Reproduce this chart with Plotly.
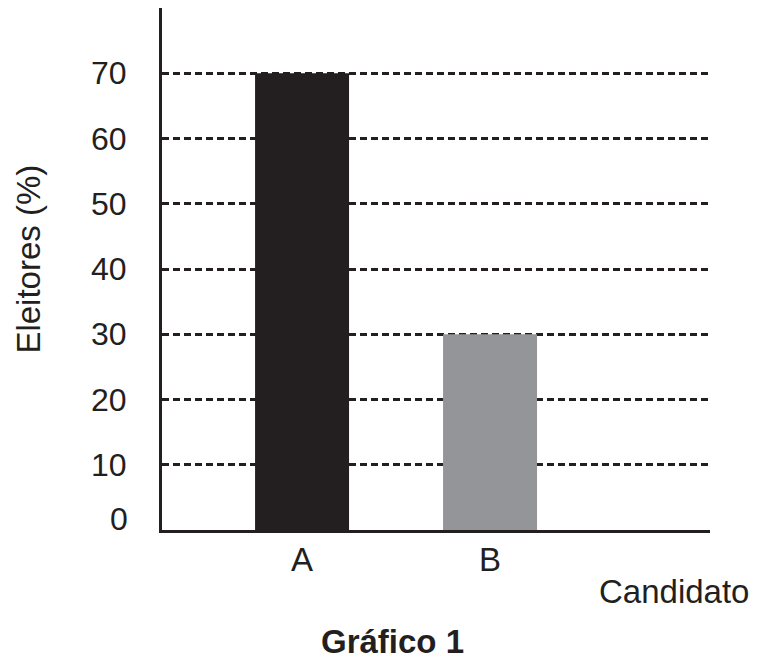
import plotly.graph_objects as go

# Data
candidates = ['A', 'B']
voters_pct = [70, 30]
bar_colors = ['#231f20', '#939598']
y_ticks = [10, 20, 30, 40, 50, 60, 70]

positions = list(range(len(candidates)))
ink = '#231f20'
font_family = 'Liberation Sans, Arial, sans-serif'

fig = go.Figure()

fig.add_trace(go.Bar(
    x=positions,
    y=voters_pct,
    width=0.5,
    marker=dict(color=bar_colors, line=dict(width=0)),
    showlegend=False,
    hoverinfo='skip'
))

# the page body adds an 8px margin, so the figure is made that much smaller
fig.update_layout(
    width=753,
    height=663,
    margin=dict(l=154, r=51, t=0, b=141),
    plot_bgcolor='white',
    paper_bgcolor='white',
    font=dict(family=font_family, size=32, color=ink),
    xaxis=dict(
        range=[-0.745, 2.17],
        tickvals=positions,
        ticktext=candidates,
        showgrid=False,
        zeroline=False,
        showline=True,
        linecolor=ink,
        linewidth=3,
        ticks='',
        ticklabelstandoff=-2,
        tickfont=dict(size=33),
        fixedrange=True
    ),
    yaxis=dict(
        range=[0, 80],
        tickvals=y_ticks,
        showgrid=True,
        gridcolor=ink,
        gridwidth=2.5,
        griddash='7px,4px',
        zeroline=False,
        showline=True,
        linecolor=ink,
        linewidth=3,
        ticks='',
        ticklabelstandoff=26,
        tickfont=dict(size=32),
        fixedrange=True
    ),
    annotations=[
        # "0" label sits a little above the baseline in the original
        dict(text='0', xref='paper', yref='y', x=0, y=0, xanchor='right', yanchor='middle',
             xshift=-32, yshift=11, showarrow=False, font=dict(size=32)),
        dict(text='Eleitores (%)', xref='paper', yref='paper', x=-0.2427, y=0.518,
             textangle=-90, xanchor='center', yanchor='middle', showarrow=False,
             font=dict(size=33)),
        dict(text='Candidato', xref='paper', yref='paper', x=1.075, y=-0.1185,
             xanchor='right', yanchor='middle', showarrow=False, font=dict(size=33)),
        dict(text='<b>Gráfico 1</b>', xref='paper', yref='paper', x=0.4215, y=-0.214,
             xanchor='center', yanchor='middle', showarrow=False, font=dict(size=33))
    ]
)

fig.write_html('out.html')
